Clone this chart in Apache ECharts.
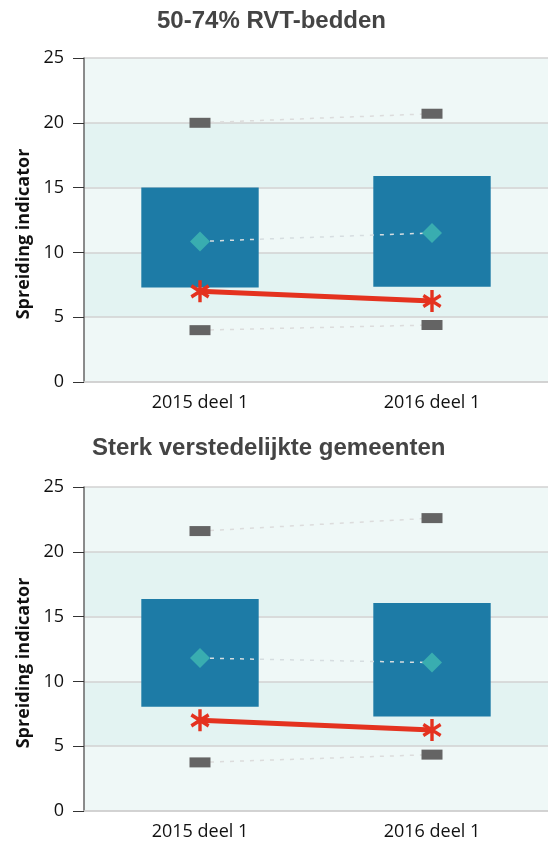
<!DOCTYPE html>
<html>
<head>
<meta charset="utf-8">
<script src="https://cdn.jsdelivr.net/npm/echarts@6/dist/echarts.min.js"></script>
<style>
  html, body { margin: 0; padding: 0; background: #fff; }
  #chart { width: 548px; height: 845px; }
</style>
</head>
<body>
<div id="chart"></div>
<script>
let categories = ['2015 deel 1', '2016 deel 1'];
let yTicks = [0, 5, 10, 15, 20, 25];

// bovenste grafiek: 50-74% RVT-bedden
let boxLowTop = [7.3, 7.35];
let boxHighTop = [15.0, 15.9];
let meanTop = [10.85, 11.5];
let ownTop = [7.0, 6.25];
let maxTop = [20.0, 20.7];
let minTop = [4.0, 4.4];

// onderste grafiek: Sterk verstedelijkte gemeenten
let boxLowBottom = [8.05, 7.3];
let boxHighBottom = [16.35, 16.05];
let meanBottom = [11.8, 11.45];
let ownBottom = [7.0, 6.25];
let maxBottom = [21.6, 22.6];
let minBottom = [3.75, 4.35];

let titles = ['50-74% RVT-bedden', 'Sterk verstedelijkte gemeenten'];

let asterisk = 'path://M-1.7 -10L1.7 -10L1.7 10L-1.7 10Z' +
  'M7.81 -6.47L9.51 -3.53L-7.81 6.47L-9.51 3.53Z' +
  'M-9.51 -3.53L-7.81 -6.47L9.51 3.53L7.81 6.47Z';

let boxSeries = (idx, low, high) => ({
  type: 'custom',
  xAxisIndex: idx,
  yAxisIndex: idx,
  z: 2,
  data: categories.map((c, i) => [i, low[i], high[i]]),
  renderItem: (params, api) => {
    let p1 = api.coord([api.value(0), api.value(2)]);
    let p0 = api.coord([api.value(0), api.value(1)]);
    let w = api.size([1, 0])[0] * 0.506;
    return {
      type: 'rect',
      shape: { x: p1[0] - w / 2, y: p1[1], width: w, height: p0[1] - p1[1] },
      style: { fill: '#1d7ba6' }
    };
  }
});

let dashSeries = (idx, data) => ({
  type: 'line',
  xAxisIndex: idx,
  yAxisIndex: idx,
  z: 3,
  data: data,
  symbol: 'rect',
  symbolSize: [21, 10],
  showAllSymbol: true,
  itemStyle: { color: '#646464' },
  lineStyle: { color: '#dcdcdc', width: 1.5, type: [4, 6] },
  silent: true
});

let meanSeries = (idx, data) => ({
  type: 'line',
  xAxisIndex: idx,
  yAxisIndex: idx,
  z: 3,
  data: data,
  symbol: 'diamond',
  symbolSize: [20, 20],
  itemStyle: { color: '#39adb0' },
  lineStyle: { color: '#d6dde0', width: 1.5, type: [4, 6] },
  silent: true
});

let ownSeries = (idx, data) => ({
  type: 'line',
  xAxisIndex: idx,
  yAxisIndex: idx,
  z: 4,
  data: data,
  symbol: asterisk,
  symbolSize: [20, 22],
  symbolKeepAspect: true,
  itemStyle: { color: '#e4321f' },
  lineStyle: { color: '#e4321f', width: 5 },
  silent: true
});

let gridTops = [58, 487];

let option = {
  animation: false,
  backgroundColor: '#fff',
  title: [
    { text: titles[0], left: 152, top: 4,
      textStyle: { fontFamily: 'Liberation Sans', fontWeight: 'bold', fontSize: 24, color: '#444' } },
    { text: titles[1], left: 87, top: 431,
      textStyle: { fontFamily: 'Liberation Sans', fontWeight: 'bold', fontSize: 24, color: '#444' } }
  ],
  grid: gridTops.map(t => ({ left: 84, right: 0, top: t, height: 324 })),
  xAxis: gridTops.map((t, i) => ({
    type: 'category',
    gridIndex: i,
    data: categories,
    axisLine: { show: true, lineStyle: { color: '#cfcfcf', width: 1.5 } },
    axisTick: { show: false },
    axisLabel: { fontFamily: 'Open Sans', fontSize: 18, color: '#111', margin: 12 }
  })),
  yAxis: gridTops.map((t, i) => ({
    type: 'value',
    gridIndex: i,
    min: yTicks[0],
    max: yTicks[yTicks.length - 1],
    interval: 5,
    name: 'Spreiding indicator',
    nameLocation: 'middle',
    nameGap: 51,
    nameTextStyle: { fontFamily: 'Open Sans', fontWeight: 'bold', fontSize: 18, color: '#111', padding: [0, 28, 0, 0] },
    axisLine: { show: true, lineStyle: { color: '#666', width: 1.5 } },
    axisTick: { show: true, length: 11, lineStyle: { color: '#333', width: 1 } },
    axisLabel: { fontFamily: 'Open Sans', fontSize: 18, color: '#111', margin: 20 },
    splitLine: { show: true, lineStyle: { color: '#d2d2d2', width: 1.5 } },
    splitArea: { show: true, areaStyle: { color: ['#eff8f7', '#e3f3f2'] } }
  })),
  series: [
    boxSeries(0, boxLowTop, boxHighTop),
    dashSeries(0, maxTop),
    dashSeries(0, minTop),
    meanSeries(0, meanTop),
    ownSeries(0, ownTop),
    boxSeries(1, boxLowBottom, boxHighBottom),
    dashSeries(1, maxBottom),
    dashSeries(1, minBottom),
    meanSeries(1, meanBottom),
    ownSeries(1, ownBottom)
  ]
};

let chart = echarts.init(document.getElementById('chart'), null, { renderer: 'canvas' });
chart.setOption(option);
</script>
</body>
</html>
